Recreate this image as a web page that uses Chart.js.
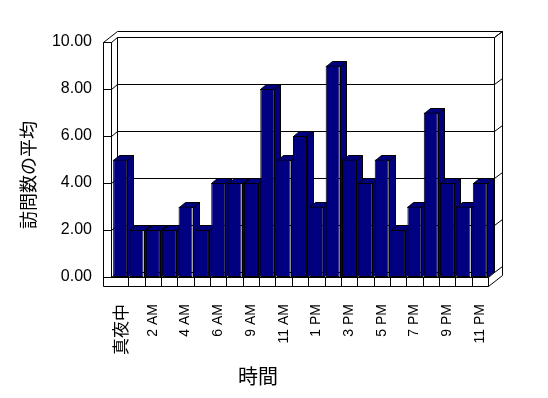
<!DOCTYPE html>
<html>
<head>
<meta charset="utf-8">
<script src="https://cdn.jsdelivr.net/npm/chart.js@4"></script>
<style>
  html, body { margin: 0; padding: 0; background: #fff; }
  #wrap { width: 548px; height: 398px; }
</style>
</head>
<body>
<div id="wrap"><canvas id="visitChart" width="548" height="398"></canvas></div>
<script>
const hours = [
  '真夜中', '1 AM', '2 AM', '3 AM', '4 AM', '5 AM', '6 AM', '7 AM',
  '9 AM', '10 AM', '11 AM', '正午', '1 PM', '2 PM', '3 PM', '4 PM',
  '5 PM', '6 PM', '7 PM', '8 PM', '9 PM', '10 PM', '11 PM'
];
const visits = [5, 2, 2, 2, 3, 2, 4, 4, 4, 8, 5, 6, 3, 9, 5, 4, 5, 2, 3, 7, 4, 3, 4];
const yTicks = [0, 2, 4, 6, 8, 10];
const yTitle = '訪問数の平均';
const xTitle = '時間';

const DX = 6, DY = -5;   // depth offset of the 3d box
const navy = '#000080';
const cjk = '"Noto Sans CJK JP"';

function line(ctx, x1, y1, x2, y2) {
  ctx.beginPath();
  ctx.moveTo(x1, y1);
  ctx.lineTo(x2, y2);
  ctx.stroke();
}

// walls, floor, gridlines and the side/top faces of the bars
const frame3d = {
  id: 'frame3d',
  beforeDatasetsDraw(chart) {
    const { ctx, chartArea: a, scales: { x, y } } = chart;
    const L = a.left - 0.5, R = a.right + 0.5;
    const B = Math.round(y.getPixelForValue(0)) + 0.5;
    const T = Math.round(y.getPixelForValue(10)) + 0.5;
    ctx.save();
    ctx.strokeStyle = '#000';
    ctx.lineWidth = 1;

    // left wall front strip
    line(ctx, L - 8, T, L - 8, B + 9);
    line(ctx, L, T, L, B);
    line(ctx, L - 8, T, L, T);
    line(ctx, L - 8, T, L + DX, T - 11);
    // back wall
    line(ctx, L + DX, T - 11, R + 14, T - 11);
    line(ctx, R + DX, T + DY, R + 14, T - 11);
    line(ctx, R + 14, T - 11, R + 14, B - 2);
    line(ctx, R + 14, B - 2, R, B + 9);
    line(ctx, R + DX, T + DY, R + DX, B + DY);
    line(ctx, R + DX, B + DY, R, B);
    line(ctx, L + DX, T + DY, L + DX, B + DY);
    // floor front strip
    line(ctx, L, B, R, B);
    line(ctx, L - 8, B + 9, R, B + 9);
    line(ctx, R, B, R, B + 9);
    for (let k = 1; k < hours.length; k++) {
      const xb = Math.round((x.getPixelForValue(k - 1) + x.getPixelForValue(k)) / 2) + 0.5;
      line(ctx, xb, B, xb, B + 9);
    }
    // gridlines
    yTicks.forEach(v => {
      const yy = Math.round(y.getPixelForValue(v)) + 0.5;
      line(ctx, L - 8, yy, L, yy);
      line(ctx, L, yy, L + DX, yy + DY);
      line(ctx, L + DX, yy + DY, R + DX, yy + DY);
      line(ctx, R + DX, yy + DY, R + 14, yy - 11);
    });

    // bar sides and tops, left to right
    const meta = chart.getDatasetMeta(0);
    ctx.fillStyle = navy;
    meta.data.forEach(bar => {
      const { x: cx, y: top, width, base } = bar.getProps(['x', 'y', 'width', 'base'], true);
      const l = Math.round(cx - width / 2) + 0.5, r = Math.round(cx + width / 2) + 0.5;
      const t = Math.round(top) + 0.5, b = Math.round(base) + 0.5;
      ctx.beginPath();
      ctx.moveTo(r, t);
      ctx.lineTo(r + DX, t + DY);
      ctx.lineTo(r + DX, b + DY);
      ctx.lineTo(r, b);
      ctx.closePath();
      ctx.fill();
      ctx.stroke();
      ctx.beginPath();
      ctx.moveTo(l, t);
      ctx.lineTo(l + DX, t + DY);
      ctx.lineTo(r + DX, t + DY);
      ctx.lineTo(r, t);
      ctx.closePath();
      ctx.fill();
      ctx.stroke();
    });
    ctx.restore();
  },
  afterDraw(chart) {
    const { ctx } = chart;
    ctx.save();
    ctx.fillStyle = '#000';
    ctx.textAlign = 'center';
    ctx.textBaseline = 'middle';
    ctx.font = '20px ' + cjk;
    ctx.fillText(xTitle, 258, 376);
    ctx.translate(28, 175);
    ctx.rotate(-Math.PI / 2);
    ctx.font = '18px ' + cjk;
    ctx.fillText(yTitle, 0, 0);
    ctx.restore();
  }
};

new Chart(document.getElementById('visitChart'), {
  type: 'bar',
  data: {
    labels: hours,
    datasets: [{
      data: visits,
      backgroundColor: navy,
      borderColor: '#000',
      borderWidth: 1,
      borderSkipped: false,
      barPercentage: 0.86,
      categoryPercentage: 1
    }]
  },
  options: {
    responsive: false,
    animation: false,
    layout: { padding: { top: 42, right: 60, left: 0, bottom: 0 } },
    plugins: { legend: { display: false }, tooltip: { enabled: false } },
    scales: {
      x: {
        grid: { display: false, drawTicks: false },
        border: { display: false },
        ticks: {
          autoSkip: false,
          minRotation: 90,
          maxRotation: 90,
          padding: 27,
          color: '#000',
          font: c => (c.index === 0
            ? { family: cjk, size: 17 }
            : { family: '"Liberation Sans"', size: 14 }),
          callback: (v, i) => (i % 2 === 0 ? hours[i] : '')
        },
        afterFit: s => { s.height = 121; }
      },
      y: {
        min: 0,
        max: 10,
        grid: { display: false, drawTicks: false },
        border: { display: false },
        ticks: {
          stepSize: 2,
          padding: 20,
          color: '#000',
          font: { family: '"Liberation Sans"', size: 16 },
          callback: v => v.toFixed(2)
        },
        afterFit: s => { s.width = 112; }
      }
    }
  },
  plugins: [frame3d]
});
</script>
</body>
</html>
